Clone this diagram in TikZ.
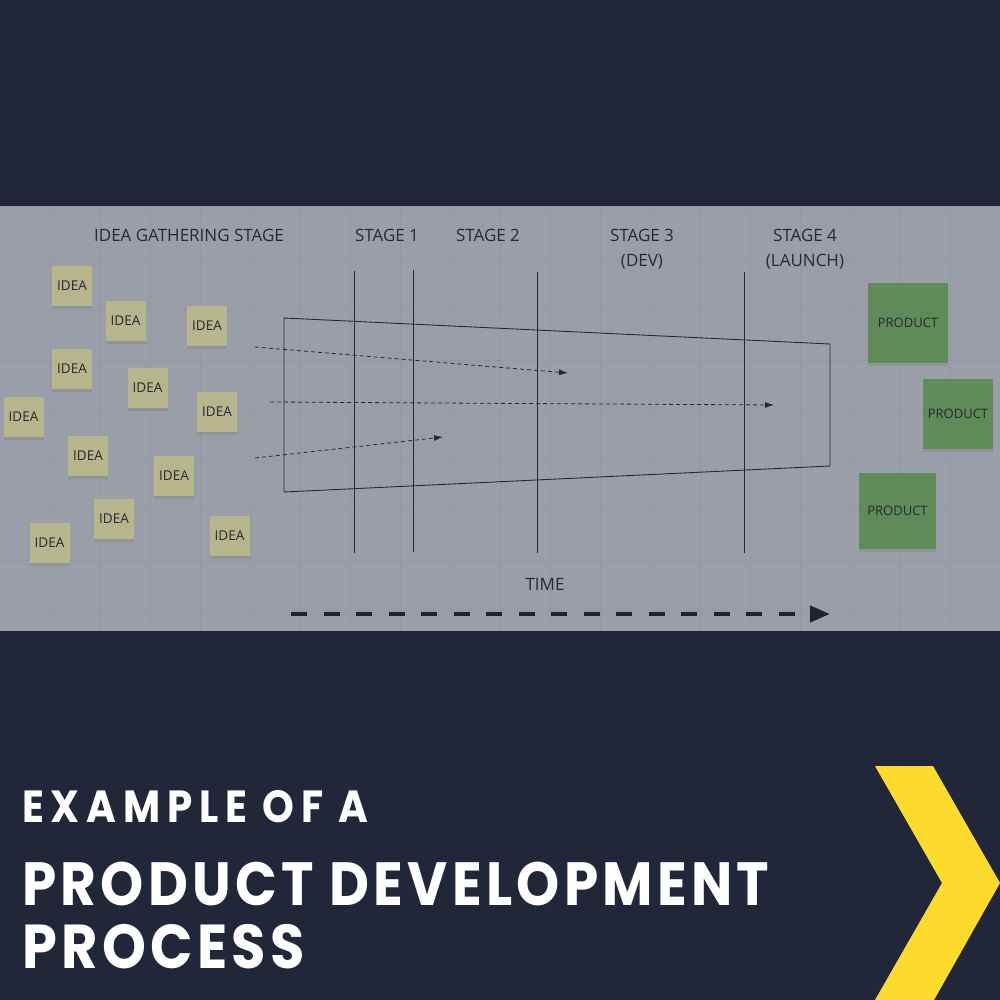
\documentclass[tikz,border=0pt]{standalone}
\usepackage{fontspec}
\setmainfont{Open Sans}
\newfontfamily\titlefont[LetterSpace=7,FakeStretch=0.9]{Poppins}
\newfontfamily\titlefontwide[LetterSpace=15,FakeStretch=0.9]{Poppins}
\usetikzlibrary{arrows.meta,shadows}
\definecolor{navy}{HTML}{212739}
\definecolor{panel}{HTML}{9A9EA9}
\definecolor{gridc}{HTML}{9498A3}
\definecolor{ink}{HTML}{262A34}
\definecolor{idea}{HTML}{B6B58C}
\definecolor{prod}{HTML}{5E8B57}
\definecolor{chev}{HTML}{FDDB2D}
\definecolor{arrowc}{HTML}{1E2330}
\tikzset{
  notebox/.style={inner sep=0pt,text=ink,
    drop shadow={shadow xshift=0pt,shadow yshift=-3pt,opacity=.35}},
  ideanote/.style={notebox,fill=idea,minimum width=40pt,minimum height=40pt,
    font=\fontsize{13.5}{13.5}\selectfont},
  prodnote/.style={notebox,fill=prod,font=\fontsize{13}{13}\selectfont},
  header/.style={text=ink,font=\fontsize{17}{25}\selectfont,align=center,inner sep=0pt},
  stageline/.style={draw=ink,line width=0.8pt},
  framebox/.style={draw=ink,line width=0.9pt},
  flow/.style={draw=ink,line width=0.8pt,dash pattern=on 4pt off 3pt,
    -{Latex[length=9pt,width=6pt]}},
  timearrow/.style={draw=arrowc,line width=4pt,dash pattern=on 16pt off 16.5pt,
    -{Triangle[length=20pt,width=16pt]}},
  titletext/.style={text=white,inner sep=0pt,anchor=base west}
}
\begin{document}
\begin{tikzpicture}[x=1pt,y=-1pt]
\useasboundingbox (0,0) rectangle (1000,1000);
\fill[navy] (0,0) rectangle (1000,1000);
\fill[panel] (0,206) rectangle (1000,631);
\foreach \x in {50,100,...,950} \draw[gridc,line width=0.6pt] (\x,206) -- (\x,631);
\foreach \y in {210,260,...,610} \draw[gridc,line width=0.6pt] (0,\y) -- (1000,\y);

% headers
\node[header] (h0) at (189,235) {IDEA GATHERING STAGE};
\node[header] (h1) at (387,235) {STAGE 1};
\node[header] (h2) at (488,235) {STAGE 2};
\node[header,anchor=base] (h3) at (642,266) {STAGE 3\\(DEV)};
\node[header,anchor=base] (h4) at (805,266) {STAGE 4\\(LAUNCH)};

% stage lines
\coordinate (v1t) at (354,271); \coordinate (v1b) at (354,553);
\coordinate (v2t) at (413,270); \coordinate (v2b) at (413,552);
\coordinate (v3t) at (537,272); \coordinate (v3b) at (537,553);
\coordinate (v4t) at (744,272); \coordinate (v4b) at (744,553);
\draw[stageline] (v1t) -- (v1b);
\draw[stageline] (v2t) -- (v2b);
\draw[stageline] (v3t) -- (v3b);
\draw[stageline] (v4t) -- (v4b);

% funnel frame
\coordinate (tl) at (284,318);
\coordinate (tr) at (830,344);
\coordinate (br) at (830,466);
\coordinate (bl) at (284,492);
\draw[framebox] (tl) -- (tr) -- (br) -- (bl) -- cycle;

% idea notes
\node[ideanote] (i1) at (72,286) {IDEA};
\node[ideanote] (i2) at (125.5,320.5) {IDEA};
\node[ideanote] (i3) at (207,326) {IDEA};
\node[ideanote] (i4) at (72,369) {IDEA};
\node[ideanote] (i5) at (147.5,388) {IDEA};
\node[ideanote] (i6) at (217,412) {IDEA};
\node[ideanote] (i7) at (23.5,416.5) {IDEA};
\node[ideanote] (i8) at (88,455.5) {IDEA};
\node[ideanote] (i9) at (174,476) {IDEA};
\node[ideanote] (i10) at (114,519) {IDEA};
\node[ideanote] (i11) at (49.5,543) {IDEA};
\node[ideanote] (i12) at (229.5,535.5) {IDEA};

% product notes
\node[prodnote,minimum width=80pt,minimum height=80pt] (p1) at (908,323) {PRODUCT};
\node[prodnote,minimum width=70pt,minimum height=70pt] (p2) at (958,414) {PRODUCT};
\node[prodnote,minimum width=77pt,minimum height=76pt] (p3) at (897.5,511) {PRODUCT};

% flow arrows
\coordinate (a1s) at (255,347); \coordinate (a1e) at (568,373);
\coordinate (a2s) at (270,402); \coordinate (a2e) at (774,405);
\coordinate (a3s) at (255,458); \coordinate (a3e) at (443,437);
\draw[flow] (a1s) -- (a1e);
\draw[flow] (a2s) -- (a2e);
\draw[flow] (a3s) -- (a3e);

% time
\node[header] (time) at (545,584) {TIME};
\coordinate (ts) at (291,614); \coordinate (te) at (830,614);
\draw[timearrow] (ts) -- (te);

% title
\node[titletext,font=\titlefontwide\bfseries\fontsize{45}{45}\selectfont] (t1) at (22,822) {EXAMPLE OF A};
\node[titletext,font=\titlefont\bfseries\fontsize{61}{61}\selectfont] (t2) at (22,905) {PRODUCT DEVELOPMENT};
\node[titletext,font=\titlefont\bfseries\fontsize{62}{62}\selectfont] (t3) at (22,968) {PROCESS};

% chevron
\fill[chev] (875,766) -- (933,766) -- (1000,883) -- (934,1000) -- (875,1000) -- (942,883) -- cycle;
\end{tikzpicture}
\end{document}
